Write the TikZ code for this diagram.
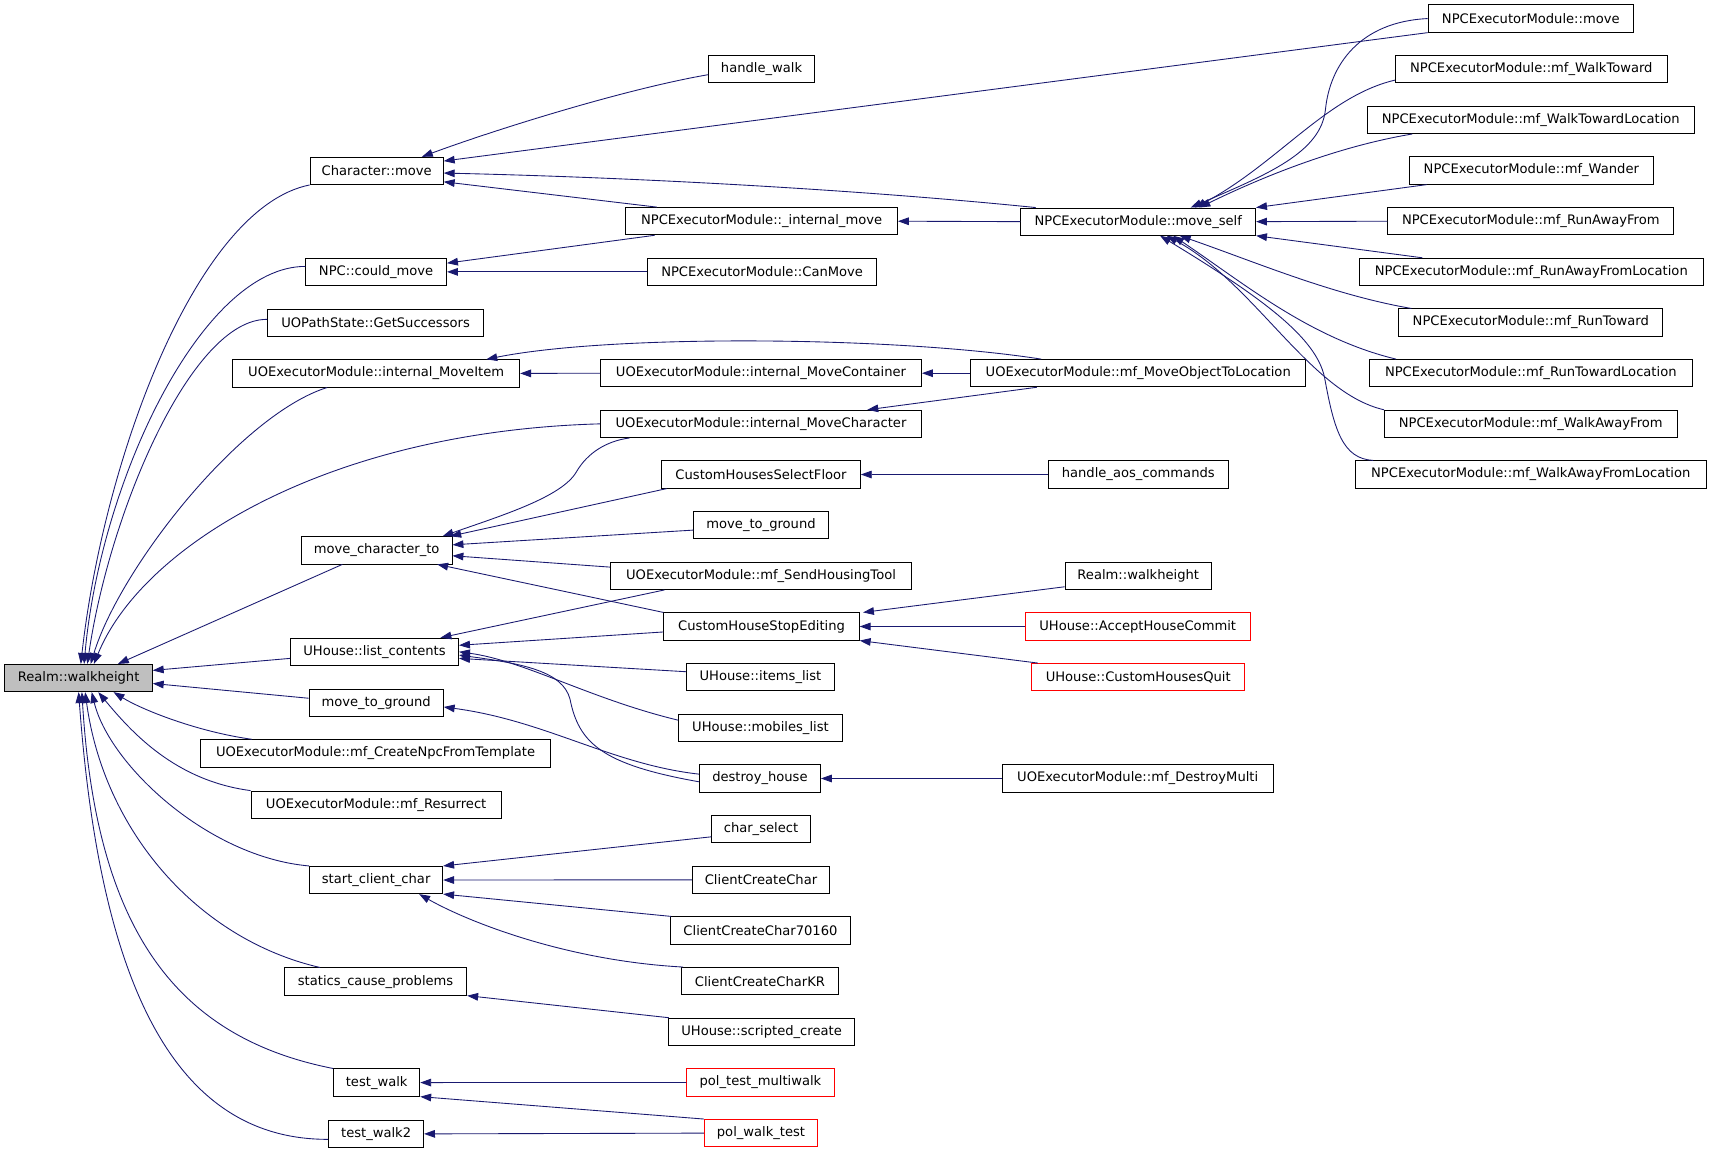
\documentclass[tikz,border=0pt]{standalone}
\usepackage{fontspec}
\setmainfont{DejaVu Sans}
\usetikzlibrary{arrows.meta,calc}
\definecolor{edgeblue}{HTML}{191970}
\definecolor{realmgray}{HTML}{BFBFBF}
\begin{document}
\begin{tikzpicture}[x=1pt,y=-1pt,
  box/.style={draw=black,line width=0.8pt,fill=white,minimum height=25pt,inner sep=0pt,font=\fontsize{12}{14}\selectfont},
  redbox/.style={box,draw=red},
  edge/.style={draw=edgeblue,line width=0.8pt,{Triangle[length=10pt,width=7pt]}-}]
\fill[white] (0,0) rectangle (1568,1055);
\useasboundingbox (0,0) rectangle (1568,1055);
% column 1
\node[box,minimum width=135pt,fill=realmgray] (realm) at (72,621) {Realm::walkheight};
% column 2
\node[box,minimum width=122pt] (charmove) at (345,156.5) {Character::move};
\node[box,minimum width=129pt] (npccould) at (344.5,249) {NPC::could\_move};
\node[box,minimum width=198pt] (uopath) at (344,295.5) {UOPathState::GetSuccessors};
\node[box,minimum width=263pt] (moveitem) at (344.5,342) {UOExecutorModule::internal\_MoveItem};
\node[box,minimum width=138pt] (mct) at (345,504) {move\_character\_to};
\node[box,minimum width=154pt] (listc) at (343,597) {UHouse::list\_contents};
\node[box,minimum width=123pt] (mtgA) at (344.5,643.5) {move\_to\_ground};
\node[box,minimum width=320pt] (createnpc) at (344,690) {UOExecutorModule::mf\_CreateNpcFromTemplate};
\node[box,minimum width=229pt] (resurrect) at (344.5,737) {UOExecutorModule::mf\_Resurrect};
\node[box,minimum width=122pt] (startcc) at (344.5,806) {start\_client\_char};
\node[box,minimum width=167pt] (statics) at (344,899) {statics\_cause\_problems};
\node[box,minimum width=79pt] (testwalk) at (345,991.5) {test\_walk};
\node[box,minimum width=87pt] (testwalkB) at (344.5,1038.5) {test\_walk2};
% column 3
\node[box,minimum width=97pt] (handlewalk) at (697.5,63.4) {handle\_walk};
\node[box,minimum width=249pt] (intmove) at (697.5,202.6) {NPCExecutorModule::\_internal\_move};
\node[box,minimum width=210pt] (canmove) at (698,249) {NPCExecutorModule::CanMove};
\node[box,minimum width=294pt] (movecont) at (697,341.8) {UOExecutorModule::internal\_MoveContainer};
\node[box,minimum width=294pt] (movechar) at (697,388.2) {UOExecutorModule::internal\_MoveCharacter};
\node[box,minimum width=182pt] (selfloor) at (697,434.6) {CustomHousesSelectFloor};
\node[box,minimum width=123pt] (mtgB) at (697,481) {move\_to\_ground};
\node[box,minimum width=276pt] (sendtool) at (697,527.4) {UOExecutorModule::mf\_SendHousingTool};
\node[box,minimum width=179pt] (stopedit) at (697.5,573.8) {CustomHouseStopEditing};
\node[box,minimum width=136pt] (itemslist) at (696.5,620.2) {UHouse::items\_list};
\node[box,minimum width=150pt] (mobslist) at (696.5,666.6) {UHouse::mobiles\_list};
\node[box,minimum width=111pt] (destroyh) at (696,713) {destroy\_house};
\node[box,minimum width=90pt] (charsel) at (697,759.4) {char\_select};
\node[box,minimum width=126pt] (ccc) at (697,805.8) {ClientCreateChar};
\node[box,minimum width=165pt] (cccB) at (696.5,852.2) {ClientCreateChar70160};
\node[box,minimum width=144pt] (ccckr) at (696,898.6) {ClientCreateCharKR};
\node[box,minimum width=171pt] (scripted) at (697.5,945) {UHouse::scripted\_create};
\node[redbox,minimum width=135pt] (poltm) at (696.5,991.4) {pol\_test\_multiwalk};
\node[redbox,minimum width=104pt] (polwt) at (697,1037.8) {pol\_walk\_test};
% column 4
\node[box,minimum width=215pt] (moveself) at (1042.5,203) {NPCExecutorModule::move\_self};
\node[box,minimum width=307pt] (moveobj) at (1042.5,341.8) {UOExecutorModule::mf\_MoveObjectToLocation};
\node[box,minimum width=165pt] (aos) at (1042.5,434.6) {handle\_aos\_commands};
\node[box,minimum width=134pt] (realmB) at (1042.5,527.4) {Realm::walkheight};
\node[redbox,minimum width=206pt] (accept) at (1042,573.8) {UHouse::AcceptHouseCommit};
\node[redbox,minimum width=195pt] (quit) at (1042.5,620.2) {UHouse::CustomHousesQuit};
\node[box,minimum width=248pt] (destroymulti) at (1042,713) {UOExecutorModule::mf\_DestroyMulti};
% column 5
\node[box,minimum width=188pt] (npcmove) at (1402,17) {NPCExecutorModule::move};
\node[box,minimum width=249pt] (walktoward) at (1402.5,63.4) {NPCExecutorModule::mf\_WalkToward};
\node[box,minimum width=300pt] (walktowardloc) at (1402,109.8) {NPCExecutorModule::mf\_WalkTowardLocation};
\node[box,minimum width=223pt] (wander) at (1402.5,156.2) {NPCExecutorModule::mf\_Wander};
\node[box,minimum width=262pt] (runaway) at (1402,202.6) {NPCExecutorModule::mf\_RunAwayFrom};
\node[box,minimum width=315pt] (runawayloc) at (1402.5,249) {NPCExecutorModule::mf\_RunAwayFromLocation};
\node[box,minimum width=242pt] (runtoward) at (1402,295.4) {NPCExecutorModule::mf\_RunToward};
\node[box,minimum width=296pt] (runtowardloc) at (1402,341.8) {NPCExecutorModule::mf\_RunTowardLocation};
\node[box,minimum width=268pt] (walkaway) at (1402,388.2) {NPCExecutorModule::mf\_WalkAwayFrom};
\node[box,minimum width=322pt] (walkawayloc) at (1402,434.6) {NPCExecutorModule::mf\_WalkAwayFromLocation};
% edges into Realm::walkheight
\draw[edge] ($(realm.north)+(2,0)$) .. controls (95,420) and (180,190) .. (charmove.south west);
\draw[edge] ($(realm.north)+(5,0)$) .. controls (92,440) and (185,244) .. ($(npccould.west)+(0,-5)$);
\draw[edge] ($(realm.north)+(8,0)$) .. controls (100,470) and (175,292) .. ($(uopath.west)+(0,-3)$);
\draw[edge] ($(realm.north)+(11,0)$) .. controls (110,520) and (220,380) .. ($(moveitem.south west)+(87,0)$);
\draw[edge] ($(realm.north)+(14,0)$) .. controls (130,500) and (300,395) .. (movechar.west);
\draw[edge] ($(realm.north)+(36,0)$) -- ($(mct.south west)+(38,0)$);
\draw[edge] ($(realm.east)+(0,-7)$) -- ($(listc.west)+(0,6)$);
\draw[edge] ($(realm.east)+(0,5)$) -- ($(mtgA.west)+(0,-4)$);
\draw[edge] ($(realm.south)+(32,0)$) .. controls (130,650) and (180,670) .. ($(createnpc.north west)+(47,0)$);
\draw[edge] ($(realm.south)+(18,0)$) .. controls (120,670) and (160,715) .. (resurrect.north west);
\draw[edge] ($(realm.south)+(12,0)$) .. controls (100,700) and (190,785) .. (startcc.north west);
\draw[edge] ($(realm.south)+(6,0)$) .. controls (95,760) and (180,860) .. ($(statics.north west)+(33,0)$);
\draw[edge] ($(realm.south)+(3,0)$) .. controls (88,850) and (160,950) .. (testwalk.north west);
\draw[edge] (realm.south) .. controls (90,880) and (150,1044) .. ($(testwalkB.west)+(0,5)$);
% Character::move
\draw[edge] ($(charmove.north east)+(-20,0)$) .. controls (450,120) and (570,82) .. ($(handlewalk.west)+(0,5)$);
\draw[edge] ($(charmove.east)+(0,-9)$) -- (npcmove.south west);
\draw[edge] ($(charmove.east)+(0,2)$) .. controls (600,163) and (800,175) .. ($(moveself.north west)+(14,0)$);
\draw[edge] ($(charmove.east)+(0,10)$) -- ($(intmove.north west)+(29,0)$);
% NPC::could_move
\draw[edge] ($(npccould.east)+(0,-8)$) -- ($(intmove.south west)+(27,0)$);
\draw[edge] (npccould.east) -- (canmove.west);
% _internal_move
\draw[edge] (intmove.east) -- (moveself.west);
% move_self
\draw[edge] ($(moveself.north)+(48,0)$) .. controls (1160,160) and (1210,140) .. (1214,100) .. controls (1218,60) and (1245,20) .. (npcmove.west);
\draw[edge] ($(moveself.north)+(52,0)$) .. controls (1170,150) and (1215,88) .. ($(walktoward.west)+(0,10)$);
\draw[edge] ($(moveself.north)+(56,0)$) .. controls (1150,165) and (1220,135) .. ($(walktowardloc.south west)+(42,0)$);
\draw[edge] (moveself.north east) -- ($(wander.south west)+(16,0)$);
\draw[edge] (moveself.east) -- (runaway.west);
\draw[edge] (moveself.south east) -- ($(runawayloc.north west)+(58,0)$);
\draw[edge] ($(moveself.south)+(38,0)$) .. controls (1150,240) and (1220,270) .. ($(runtoward.north west)+(12,0)$);
\draw[edge] ($(moveself.south)+(32,0)$) .. controls (1140,260) and (1200,310) .. ($(runtowardloc.north west)+(25,0)$);
\draw[edge] ($(moveself.south)+(26,0)$) .. controls (1150,260) and (1200,360) .. (walkaway.north west);
\draw[edge] ($(moveself.south)+(20,0)$) .. controls (1160,275) and (1205,310) .. (1213,345) .. controls (1222,395) and (1230,420) .. ($(walkawayloc.north west)+(17,0)$);
% internal_MoveItem etc.
\draw[edge] (moveitem.east) -- (movecont.west);
\draw[edge] ($(moveitem.north east)+(-31,0)$) .. controls (560,306) and (820,308) .. ($(moveobj.north west)+(65,0)$);
\draw[edge] (movecont.east) -- (moveobj.west);
\draw[edge] ($(movechar.north east)+(-50,0)$) -- ($(moveobj.south west)+(61,0)$);
% move_character_to
\draw[edge] ($(mct.north east)+(-9,0)$) .. controls (460,472) and (515,455) .. (528,432) .. controls (538,415) and (555,404) .. ($(movechar.south west)+(27,0)$);
\draw[edge] ($(mct.north east)+(-2,0)$) -- ($(selfloor.south west)+(5,0)$);
\draw[edge] ($(mct.east)+(0,-5)$) -- ($(mtgB.west)+(0,4.5)$);
\draw[edge] ($(mct.east)+(0,5)$) -- ($(sendtool.west)+(0,-8)$);
\draw[edge] ($(mct.south east)+(-14,0)$) -- (stopedit.north west);
% list_contents
\draw[edge] ($(listc.north east)+(-17,0)$) -- ($(sendtool.south west)+(50,0)$);
\draw[edge] ($(listc.east)+(0,-6)$) -- ($(stopedit.west)+(0,5)$);
\draw[edge] ($(listc.east)+(0,6)$) -- ($(itemslist.west)+(0,-5)$);
\draw[edge] (listc.east) .. controls (480,605) and (540,640) .. ($(mobslist.west)+(0,-7)$);
\draw[edge] ($(listc.east)+(0,3)$) .. controls (480,608) and (515,615) .. (522,640) .. controls (530,680) and (550,700) .. ($(destroyh.west)+(0,3)$);
% move_to_ground (col 2)
\draw[edge] ($(mtgA.east)+(0,4)$) .. controls (500,660) and (560,700) .. ($(destroyh.west)+(0,-4)$);
% CustomHouseStopEditing
\draw[edge] ($(stopedit.north east)+(3,0)$) -- ($(realmB.west)+(0,10)$);
\draw[edge] (stopedit.east) -- (accept.west);
\draw[edge] (stopedit.south east) -- ($(quit.north west)+(6,0)$);
% others
\draw[edge] (selfloor.east) -- (aos.west);
\draw[edge] (destroyh.east) -- (destroymulti.west);
\draw[edge] (startcc.north east) -- ($(charsel.west)+(0,7)$);
\draw[edge] (startcc.east) -- (ccc.west);
\draw[edge] (startcc.south east) -- ($(cccB.north west)+(1,0)$);
\draw[edge] ($(startcc.south east)+(-22,0)$) .. controls (430,845) and (520,880) .. ($(ccckr.north west)+(2,0)$);
\draw[edge] (statics.south east) -- ($(scripted.north west)+(1,0)$);
\draw[edge] (testwalk.east) -- (poltm.west);
\draw[edge] (testwalk.south east) -- (polwt.north west);
\draw[edge] (testwalkB.east) -- (polwt.west);
\end{tikzpicture}
\end{document}
